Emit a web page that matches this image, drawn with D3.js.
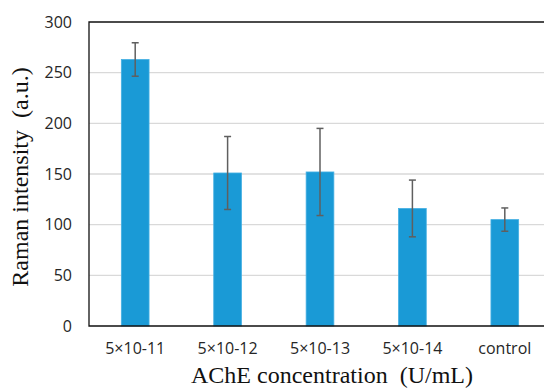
<!DOCTYPE html>
<html>
<head>
<meta charset="utf-8">
<script src="https://cdn.jsdelivr.net/npm/d3@7"></script>
<style>
  body { margin: 0; background: white; }
  svg { display: block; }
  .tick-label { font-family: "Open Sans", "Liberation Sans", sans-serif; font-size: 16px; fill: #262626; }
  .title { font-family: "Liberation Serif", "Times New Roman", serif; font-size: 24px; fill: #111; }
</style>
</head>
<body>
<div id="chart"></div>
<script>
const categories = ["5×10-11", "5×10-12", "5×10-13", "5×10-14", "control"];
const intensity = [263, 151, 152, 116, 105];
const errors = [16.5, 36, 43, 28, 11.5];
const yTicks = [0, 50, 100, 150, 200, 250, 300];

const width = 544, height = 389;
const margin = { top: 22, right: -7, bottom: 63, left: 89 };

const svg = d3.select("#chart")
  .append("svg")
  .attr("width", width)
  .attr("height", height);

const x = d3.scaleBand()
  .domain(categories)
  .range([margin.left, width - margin.right])
  .paddingInner(0.7)
  .paddingOuter(0.35);

const y = d3.scaleLinear()
  .domain([0, 300])
  .range([height - margin.bottom, margin.top]);

// gridlines
svg.append("g")
  .selectAll("line")
  .data(yTicks.slice(1, -1))
  .join("line")
  .attr("x1", margin.left)
  .attr("x2", width)
  .attr("y1", d => y(d))
  .attr("y2", d => y(d))
  .attr("stroke", "#d9d9d9")
  .attr("stroke-width", 1.3);

// bars
svg.append("g")
  .selectAll("rect")
  .data(categories)
  .join("rect")
  .attr("x", d => x(d))
  .attr("y", (d, i) => y(intensity[i]))
  .attr("width", x.bandwidth())
  .attr("height", (d, i) => y(0) - y(intensity[i]))
  .attr("fill", "#1a9ad6")
  .attr("stroke", "#45b0e3")
  .attr("stroke-width", 0.8);

// error bars
const err = svg.append("g")
  .attr("stroke", "#5f5f5f")
  .attr("stroke-width", 1.5);

categories.forEach((c, i) => {
  const cx = x(c) + x.bandwidth() / 2;
  const top = y(intensity[i] + errors[i]);
  const bot = y(intensity[i] - errors[i]);
  err.append("line").attr("x1", cx).attr("x2", cx).attr("y1", top).attr("y2", bot);
  err.append("line").attr("x1", cx - 3.5).attr("x2", cx + 3.5).attr("y1", top).attr("y2", top);
  err.append("line").attr("x1", cx - 3.5).attr("x2", cx + 3.5).attr("y1", bot).attr("y2", bot);
});

// frame: top, left, bottom
svg.append("path")
  .attr("d", `M${width},${margin.top}H${margin.left}V${y(0)}H${width}`)
  .attr("fill", "none")
  .attr("stroke", "#111")
  .attr("stroke-width", 1.3);

// y axis labels
const yAxis = svg.append("g")
  .attr("transform", `translate(${margin.left - 17},0)`)
  .call(d3.axisLeft(y).tickValues(yTicks).tickSize(0).tickPadding(0));
yAxis.select(".domain").remove();
yAxis.attr("font-family", null).attr("font-size", null);
yAxis.selectAll("text").attr("class", "tick-label").attr("fill", null);

// x axis labels
const xAxis = svg.append("g")
  .attr("transform", `translate(0,${y(0)})`)
  .call(d3.axisBottom(x).tickSize(0).tickPadding(17));
xAxis.select(".domain").remove();
xAxis.attr("font-family", null).attr("font-size", null);
xAxis.selectAll("text").attr("class", "tick-label").attr("fill", null);

// axis titles
svg.append("text")
  .attr("class", "title")
  .attr("x", 332)
  .attr("y", 383)
  .attr("text-anchor", "middle")
  .style("white-space", "pre")
  .text("AChE concentration  (U/mL)");

svg.append("text")
  .attr("class", "title")
  .attr("transform", "translate(28,177) rotate(-90)")
  .attr("text-anchor", "middle")
  .style("white-space", "pre")
  .text("Raman intensity  (a.u.)");
</script>
</body>
</html>
